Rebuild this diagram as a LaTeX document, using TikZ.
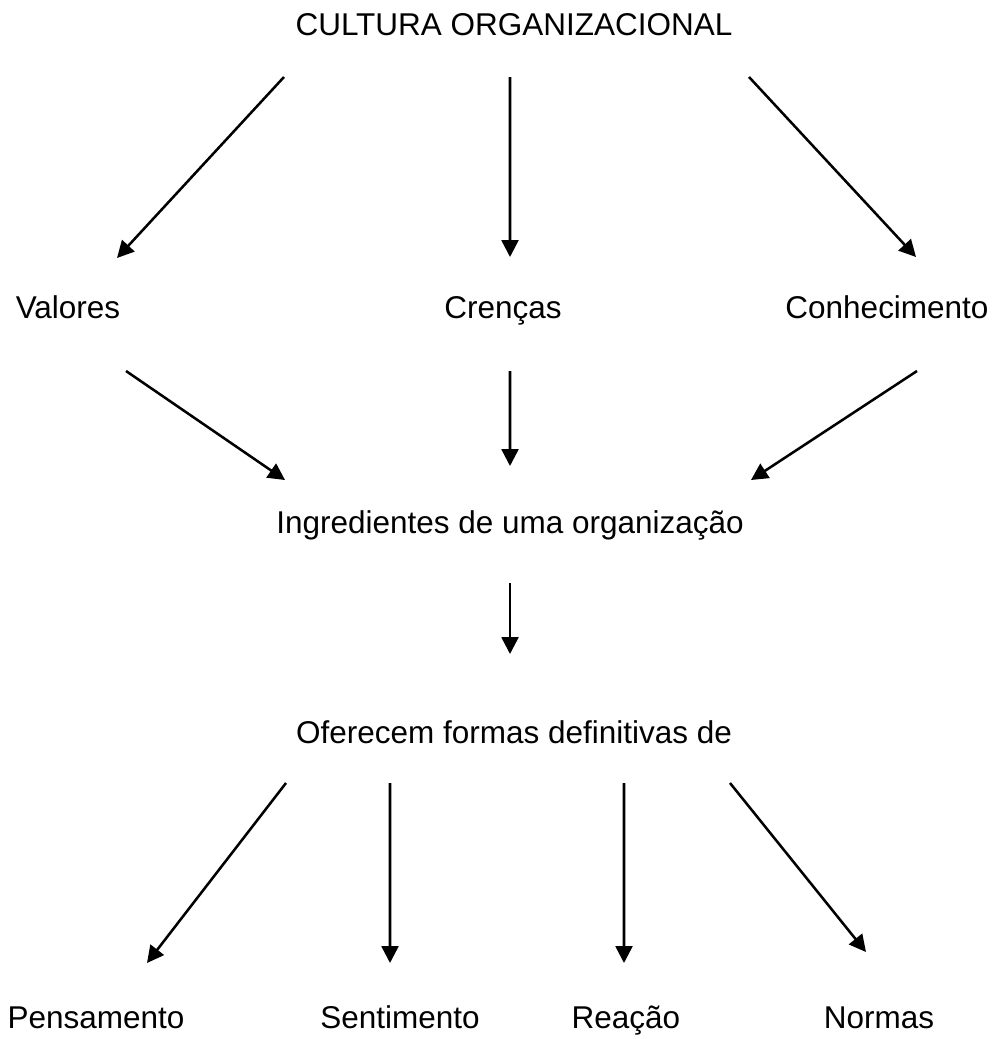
\documentclass[tikz,border=0pt]{standalone}
\usepackage{fontspec}
\setmainfont{Liberation Sans}
\usepackage{tikz}
\usetikzlibrary{arrows.meta}

\tikzset{
  txt/.style={anchor=base, inner sep=0pt, font=\fontsize{22.4pt}{27pt}\selectfont},
  seta/.style={line width=1.8pt, -{Triangle[length=0.42cm,width=0.42cm]}}
}

\begin{document}
\begin{tikzpicture}
\useasboundingbox (0,0) rectangle (24.925,-25.975);

\draw (12.85,-0.875)   node (cult) [txt] {CULTURA ORGANIZACIONAL};

\draw (1.7,-7.95)      node (val)  [txt] {Valores};
\draw (12.575,-7.95)   node (cren) [txt] {Crenças};
\draw (22.175,-7.95)   node (conh) [txt] {Conhecimento};
\draw[seta] ([shift={(-5.75,-1.05)}]cult.base)  -- ([shift={(1.225,1.5)}]val.base);
\draw[seta] ([shift={(-0.1,-1.05)}]cult.base)   -- ([shift={(0.175,1.525)}]cren.base);
\draw[seta] ([shift={(5.875,-1.05)}]cult.base)  -- ([shift={(0.725,1.525)}]conh.base);

\draw (12.75,-13.325)  node (ingr) [txt] {Ingredientes de uma organização};
\draw[seta] ([shift={(1.45,-1.325)}]val.base)   -- ([shift={(-5.625,1.325)}]ingr.base);
\draw[seta] ([shift={(0.175,-1.325)}]cren.base) -- ([shift={(0,1.675)}]ingr.base);
\draw[seta] ([shift={(0.75,-1.325)}]conh.base)  -- ([shift={(6.025,1.325)}]ingr.base);

\draw (12.85,-18.575)  node (ofer) [txt] {Oferecem formas definitivas de};
\draw[seta] ([shift={(0,-1.25)}]ingr.base)      -- ([shift={(-0.1,2.225)}]ofer.base);

\draw (2.4,-25.7)      node (pens) [txt] {Pensamento};
\draw (10,-25.7)       node (sent) [txt] {Sentimento};
\draw (15.65,-25.7)    node (reac) [txt] {Reação};
\draw (21.975,-25.7)   node (norm) [txt] {Normas};
\draw[seta] ([shift={(-5.7,-1)}]ofer.base)      -- ([shift={(1.275,1.625)}]pens.base);
\draw[seta] ([shift={(-3.1,-1)}]ofer.base)      -- ([shift={(-0.25,1.625)}]sent.base);
\draw[seta] ([shift={(2.75,-1)}]ofer.base)      -- ([shift={(-0.05,1.625)}]reac.base);
\draw[seta] ([shift={(5.4,-1)}]ofer.base)       -- ([shift={(-0.325,1.9)}]norm.base);

\end{tikzpicture}
\end{document}
